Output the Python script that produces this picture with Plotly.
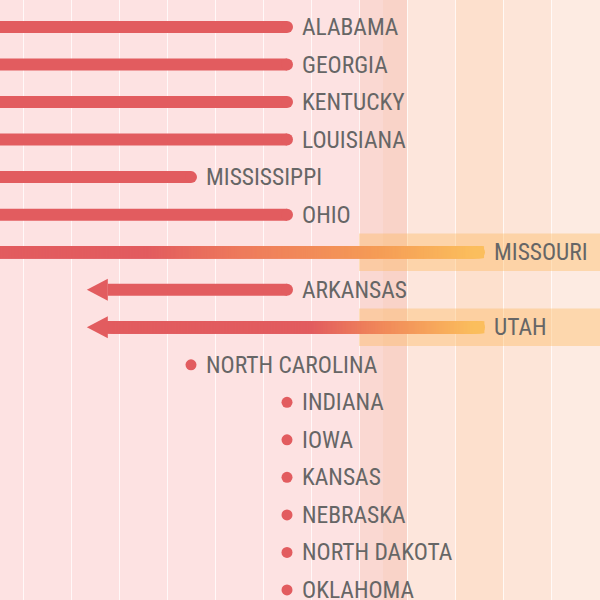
import numpy as np
import plotly.graph_objects as go

# ---------------- data ----------------
states = ["ALABAMA", "GEORGIA", "KENTUCKY", "LOUISIANA", "MISSISSIPPI", "OHIO",
          "MISSOURI", "ARKANSAS", "UTAH", "NORTH CAROLINA", "INDIANA", "IOWA",
          "KANSAS", "NEBRASKA", "NORTH DAKOTA", "OKLAHOMA"]
kinds = ["bar", "bar", "bar", "bar", "bar", "bar",
         "bar", "arrow", "arrow", "dot", "dot", "dot",
         "dot", "dot", "dot", "dot"]
start_values = [None, None, None, None, None, None,
                None, 6, 10, None, None, None, None, None, None, None]
end_values = [6, 6, 6, 6, 4, 6,
              10, 1.83, 1.83, 4, 6, 6, 6, 6, 6, 6]
highlighted = ["MISSOURI", "UTAH"]

# ---------------- style ----------------
RED = "#e25c5f"
TEXT = "#666666"
FONT = "Liberation Sans Narrow, Roboto Condensed, DejaVu Sans Condensed, Arial Narrow, sans-serif"
PX_X = 48.0      # pixels per x unit
PX_Y = 37.53     # pixels per row
LINE_W = 12
X_RANGE = [1 / 48, 601 / 48]
Y_RANGE = [(600 - 27) / PX_Y, -27 / PX_Y]
grad_stops = {
    "MISSOURI": [(3.2, RED), (5.2, "#ee7b5c"), (8.0, "#f59c56"), (10.0, "#fbbe5d")],
    "UTAH": [(6.6, RED), (8.0, "#f0865a"), (10.0, "#fbbe5d")],
}
bg_bands = [(-1, 7.5, "#fde2e2"), (7.5, 8.0, "#fad8d2"), (8.0, 8.5, "#f9d3c8"),
            (8.5, 9.5, "#fde6dc"), (9.5, 10.5, "#fde0cd"), (10.5, 11.5, "#fde5d8"),
            (11.5, 13, "#fdebe2")]

fig = go.Figure()
shapes = []
for x0, x1, c in bg_bands:
    shapes.append(dict(type="rect", xref="x", yref="paper", x0=x0, x1=x1, y0=0, y1=1,
                       fillcolor=c, line=dict(width=0), layer="below"))
for name in highlighted:
    r = states.index(name)
    shapes.append(dict(type="rect", xref="x", yref="y", x0=7.5, x1=13, y0=r - 0.5, y1=r + 0.5,
                       fillcolor="rgba(252,186,96,0.4)", line=dict(width=0), layer="between"))

head_len = 21 / PX_X
head_half = 11 / PX_Y
annotations = []
for r, (name, kind, s, e) in enumerate(zip(states, kinds, start_values, end_values)):
    if kind == "dot":
        fig.add_trace(go.Scatter(x=[e], y=[r], mode="markers",
                                 marker=dict(color=RED, size=11, line=dict(width=0)),
                                 hoverinfo="skip"))
        label_x = e
    elif kind == "bar":
        x0 = -1
        if name in grad_stops:
            stops = grad_stops[name]
            xs = np.arange(x0, e, 0.02)
            lo, hi = stops[0][0], stops[-1][0]
            scale = [[(p - lo) / (hi - lo), c] for p, c in stops]
            fig.add_trace(go.Scatter(x=xs, y=[r] * len(xs), mode="markers",
                                     marker=dict(symbol="square", size=LINE_W, color=np.clip(xs, lo, hi),
                                                 colorscale=scale, cmin=lo, cmax=hi, line=dict(width=0)),
                                     hoverinfo="skip"))
            fig.add_trace(go.Scatter(x=[e], y=[r], mode="markers",
                                     marker=dict(color=stops[-1][1], size=LINE_W, line=dict(width=0)),
                                     hoverinfo="skip"))
        else:
            fig.add_trace(go.Scatter(x=[x0, e], y=[r, r], mode="lines",
                                     line=dict(color=RED, width=LINE_W), hoverinfo="skip"))
            fig.add_trace(go.Scatter(x=[e], y=[r], mode="markers",
                                     marker=dict(color=RED, size=LINE_W, line=dict(width=0)),
                                     hoverinfo="skip"))
        label_x = e
    else:  # arrow from s back to e
        base = e + head_len
        if name in grad_stops:
            stops = grad_stops[name]
            xs = np.arange(base, s, 0.02)
            lo, hi = stops[0][0], stops[-1][0]
            scale = [[(p - lo) / (hi - lo), c] for p, c in stops]
            fig.add_trace(go.Scatter(x=xs, y=[r] * len(xs), mode="markers",
                                     marker=dict(symbol="square", size=LINE_W, color=np.clip(xs, lo, hi),
                                                 colorscale=scale, cmin=lo, cmax=hi, line=dict(width=0)),
                                     hoverinfo="skip"))
            end_col = stops[-1][1]
        else:
            fig.add_trace(go.Scatter(x=[base, s], y=[r, r], mode="lines",
                                     line=dict(color=RED, width=LINE_W), hoverinfo="skip"))
            end_col = RED
        fig.add_trace(go.Scatter(x=[s], y=[r], mode="markers",
                                 marker=dict(color=end_col, size=LINE_W, line=dict(width=0)),
                                 hoverinfo="skip"))
        fig.add_trace(go.Scatter(x=[e, base, base, e], y=[r, r - head_half, r + head_half, r],
                                 mode="lines", fill="toself", fillcolor=RED,
                                 line=dict(width=0, color=RED), hoverinfo="skip"))
        label_x = s
    annotations.append(dict(x=label_x, y=r, xref="x", yref="y", text=name, showarrow=False,
                            xanchor="left", yanchor="middle", xshift=13,
                            font=dict(family=FONT, size=23.5, color=TEXT)))

fig.update_layout(
    width=600, height=600, margin=dict(l=0, r=0, t=0, b=0),
    paper_bgcolor="#fde2e2", plot_bgcolor="#fde2e2",
    showlegend=False, shapes=shapes, annotations=annotations,
    xaxis=dict(range=X_RANGE, tick0=0.5, dtick=1, showgrid=True, gridcolor="rgba(255,255,255,0.75)",
               gridwidth=1.4, zeroline=False, showticklabels=False, ticks="", fixedrange=True),
    yaxis=dict(range=Y_RANGE, showgrid=False, zeroline=False, showticklabels=False, ticks="",
               fixedrange=True),
)
fig.write_html("out.html")
